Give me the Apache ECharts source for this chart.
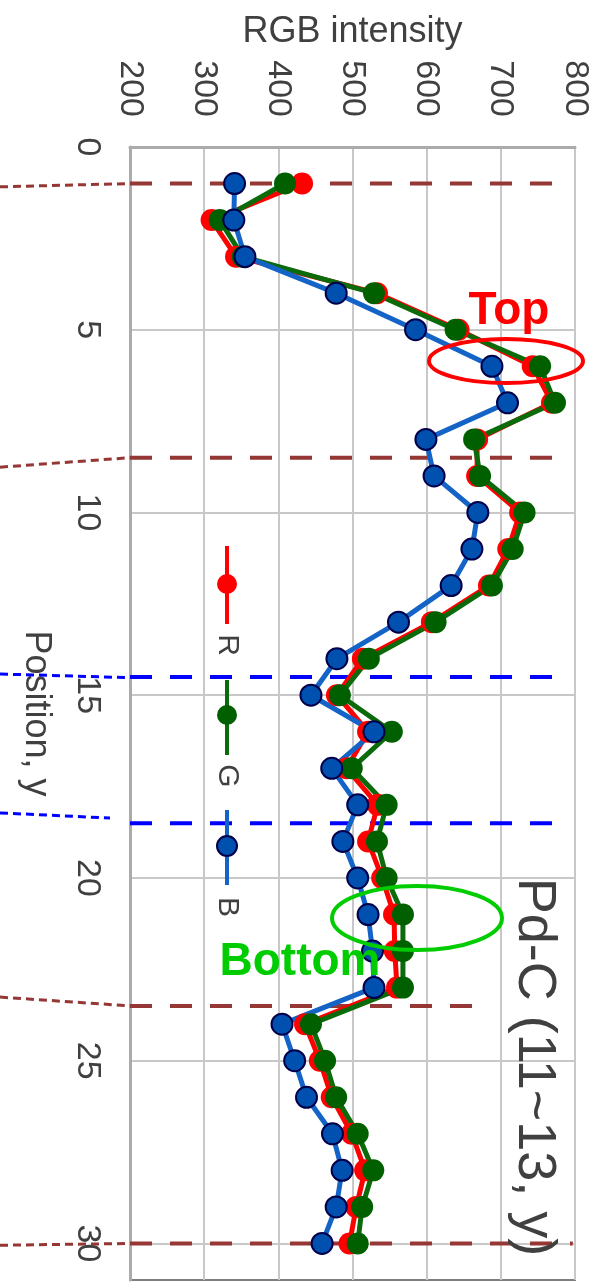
<!DOCTYPE html>
<html><head><meta charset="utf-8">
<script src="https://cdn.jsdelivr.net/npm/echarts@6/dist/echarts.min.js"></script>
<style>html,body{margin:0;padding:0;background:#fff}#c{width:596px;height:1282px}</style>
</head><body><div id="c"></div>
<script>
// Position along the strip (y) and RGB intensities
const positions = [1,2,3,4,5,6,7,8,9,10,11,12,13,14,15,16,17,18,19,20,21,22,23,24,25,26,27,28,29,30];
const redValues   = [432,310,343,533,643,743,769,668,668,726,710,684,607,514,479,521,492,534,521,540,556,557,560,436,456,472,499,517,505,496];
const greenValues = [409,321,352,529,639,753,773,664,672,732,716,688,612,522,483,553,499,546,533,546,568,568,568,444,463,478,507,528,513,507];
const blueValues  = [341,340,355,478,585,688,709,599,610,669,661,633,562,479,444,529,472,507,487,507,521,527,529,405,422,438,473,486,478,459];
const intensityTicks = [200,300,400,500,600,700,800];
const positionTicks = [0,5,10,15,20,25,30];
// Section boundaries (position y) and where their dashes end (intensity)
const brownCuts = [1, 8.5, 23.5, 30];
const brownEnds = [790, 785, 665, 797];
const brownConnectorStart = [1.09, 8.76, 23.26, 30.05];
const blueCuts = [14.5, 18.5];
const blueEnds = [775, 790];
const blueConnectorStart = [14.42, 18.22];
const blueConnectorEnd = [[200, 14.52], [173, 18.36]];

const FONT = '"Liberation Sans", Arial, Helvetica, sans-serif';
const TXT = '#404040';
const BROWN = '#953735';
const BLUEDASH = '#0000ff';

const chart = echarts.init(document.getElementById('c'), null, {renderer: 'canvas'});

const series = [];
brownCuts.forEach((y, i) => {
  series.push({type: 'line', silent: true, symbol: 'none', z: 1,
    data: [[200, y], [brownEnds[i], y]],
    lineStyle: {color: BROWN, width: 4, type: [22, 18]}});
});
blueCuts.forEach((y, i) => {
  series.push({type: 'line', silent: true, symbol: 'none', z: 1,
    data: [[200, y], [blueEnds[i], y]],
    lineStyle: {color: BLUEDASH, width: 4, type: [22, 18]}});
});
function rgbSeries(name, vals, lineColor, fill, border, size) {
  return {name, type: 'line', z: 3, silent: true,
    data: vals.map((v, i) => [v, positions[i]]),
    symbol: 'circle', symbolSize: size, showSymbol: true,
    lineStyle: {color: lineColor, width: 5},
    itemStyle: {color: fill, borderColor: border, borderWidth: border ? 2 : 0}};
}
series.push(rgbSeries('R', redValues, '#ff0000', '#ff0000', null, 22));
series.push(rgbSeries('G', greenValues, '#0b6b0b', '#006000', null, 22));
series.push(rgbSeries('B', blueValues, '#1464c8', '#0050b0', '#00004a', 21));

const option = {
  animation: false,
  backgroundColor: '#fff',
  grid: {left: 130, right: 21, top: 147, bottom: 2, show: true, borderColor: '#7f7f7f', borderWidth: 2, containLabel: false},
  xAxis: {
    type: 'value', position: 'top', min: intensityTicks[0], max: intensityTicks[intensityTicks.length - 1], interval: 100,
    name: 'RGB intensity', nameLocation: 'middle', nameGap: 97,
    nameTextStyle: {fontFamily: FONT, fontSize: 36, color: TXT},
    axisLine: {show: true, lineStyle: {color: '#ababab', width: 3}},
    axisTick: {show: false},
    axisLabel: {rotate: -90, margin: 30, fontFamily: FONT, fontSize: 34, color: TXT,
      formatter: v => intensityTicks.includes(v) ? String(v) : ''},
    splitLine: {show: true, lineStyle: {color: '#c8c8c8', width: 2}}
  },
  yAxis: {
    type: 'value', inverse: true, min: 0, max: 31, interval: 5,
    name: 'Position, y', nameLocation: 'middle', nameRotate: -90, nameGap: 76,
    nameTextStyle: {fontFamily: FONT, fontSize: 36, color: TXT},
    axisLine: {show: true, lineStyle: {color: '#ababab', width: 3}},
    axisTick: {show: false},
    axisLabel: {rotate: -90, margin: 26, fontFamily: FONT, fontSize: 34, color: TXT, showMaxLabel: false,
      formatter: v => positionTicks.includes(v) ? String(v) : ''},
    splitLine: {show: true, showMaxLine: false, lineStyle: {color: '#c8c8c8', width: 2}}
  },
  series
};
chart.setOption(option);

// Decorations: connectors to the outside image, legend, labels, title, ellipses
const toPx = (x, y) => chart.convertToPixel({gridIndex: 0}, [x, y]);
const graphic = [];
brownCuts.forEach((y, i) => {
  const a = toPx(200, brownConnectorStart[i]);
  const b = toPx(200, y);
  graphic.push({type: 'line', silent: true, z: 5, shape: {x1: 0, y1: a[1], x2: b[0], y2: b[1]},
    style: {stroke: BROWN, lineWidth: 3, lineDash: [8, 5]}});
});
blueCuts.forEach((y, i) => {
  const a = toPx(200, blueConnectorStart[i]);
  const b = toPx(blueConnectorEnd[i][0], blueConnectorEnd[i][1]);
  graphic.push({type: 'line', silent: true, z: 5, shape: {x1: 0, y1: a[1], x2: b[0], y2: b[1]},
    style: {stroke: BLUEDASH, lineWidth: 3, lineDash: [8, 5]}});
});
const R90 = -Math.PI / 2;
function rotText(x, y, text, size, color, weight) {
  return {type: 'text', x, y, rotation: R90, silent: true, z: 20,
    style: {text, fontFamily: FONT, fontSize: size, fontWeight: weight || 'normal', fill: color, align: 'center', verticalAlign: 'middle'}};
}
const legendItems = [
  {name: 'R', line: [546, 624], dot: 584, text: 645, color: '#ff0000', fill: '#ff0000', border: null},
  {name: 'G', line: [680, 755], dot: 715, text: 776, color: '#0b6b0b', fill: '#006000', border: null},
  {name: 'B', line: [810, 885], dot: 846, text: 907, color: '#1464c8', fill: '#0050b0', border: '#00004a'}
];
const lx = 227;
legendItems.forEach(it => {
  graphic.push({type: 'line', silent: true, z: 20, shape: {x1: lx, y1: it.line[0], x2: lx, y2: it.line[1]}, style: {stroke: it.color, lineWidth: 4}});
  graphic.push({type: 'circle', silent: true, z: 21, shape: {cx: lx, cy: it.dot, r: 10}, style: {fill: it.fill, stroke: it.border || it.fill, lineWidth: it.border ? 2 : 0}});
  graphic.push(rotText(lx, it.text, it.name, 30, TXT));
});
graphic.push(rotText(534, 1067, 'Pd-C (11~13, y)', 54, TXT));
graphic.push({type: 'text', x: 509, y: 311, silent: true, z: 20,
  style: {text: 'Top', fontFamily: FONT, fontSize: 46, fontWeight: 'bold', fill: '#ff0000', align: 'center', verticalAlign: 'middle'}});
graphic.push({type: 'text', x: 300, y: 962, silent: true, z: 20,
  style: {text: 'Bottom', fontFamily: FONT, fontSize: 46, fontWeight: 'bold', fill: '#00cc00', align: 'center', verticalAlign: 'middle'}});
graphic.push({type: 'ellipse', silent: true, z: 22, shape: {cx: 506, cy: 361, rx: 77, ry: 22}, style: {fill: 'none', stroke: '#ff0000', lineWidth: 4}});
graphic.push({type: 'ellipse', silent: true, z: 22, shape: {cx: 417, cy: 918, rx: 85, ry: 32}, style: {fill: 'none', stroke: '#00cc00', lineWidth: 4}});
chart.setOption({graphic});
</script>
</body></html>
